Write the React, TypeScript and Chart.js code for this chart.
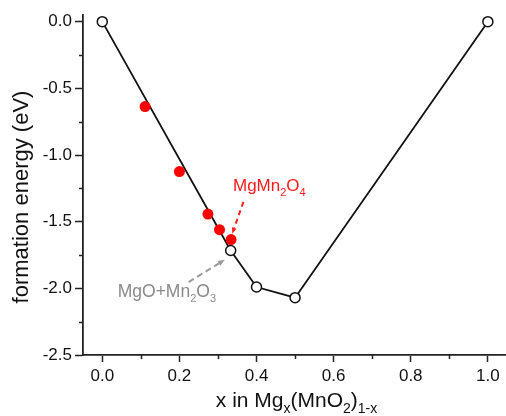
import React, { useEffect, useRef } from "react";
import { Chart, registerables } from "chart.js";

Chart.register(...registerables);

// ---- data ----
const hullX = [0, 0.333, 0.4, 0.5, 1.0];
const hullY = [0, -1.716, -1.99, -2.07, 0];
const redX = [0.111, 0.2, 0.274, 0.304, 0.334];
const redY = [-0.637, -1.124, -1.443, -1.56, -1.634];
const xTickValues = [0, 0.2, 0.4, 0.6, 0.8, 1.0];
const xMinorTicks = [0.1, 0.3, 0.5, 0.7, 0.9];
const yTickValues = [0, -0.5, -1.0, -1.5, -2.0, -2.5];
const yMinorTicks = [-0.25, -0.75, -1.25, -1.75, -2.25];

// annotation labels (text) and anchors in data coordinates
const spinelLabel = [{ t: "MgMn" }, { t: "2", sub: true }, { t: "O" }, { t: "4", sub: true }];
const spinelTextAt = [0.339, -1.225];
const spinelArrow = [[0.366, -1.352], [0.337, -1.59]];
const mixLabel = [{ t: "MgO+Mn" }, { t: "2", sub: true }, { t: "O" }, { t: "3", sub: true }];
const mixTextAt = [0.04, -2.022];
const mixArrow = [[0.224, -1.953], [0.318, -1.785]];
const xTitle = [{ t: "x in Mg" }, { t: "x", sub: true }, { t: "(MnO" }, { t: "2", sub: true }, { t: ")" }, { t: "1-x", sub: true }];
const yTitle = "formation energy (eV)";

const FONT = "'Liberation Sans', Arial, Helvetica, sans-serif";

function drawRich(ctx: CanvasRenderingContext2D, parts: { t: string; sub?: boolean }[], x: number, y: number, size: number, color: string, align: "left" | "center") {
  const subSize = Math.round(size * 0.65);
  const widths = parts.map((p) => {
    ctx.font = `${p.sub ? subSize : size}px ${FONT}`;
    return ctx.measureText(p.t).width;
  });
  const total = widths.reduce((a, b) => a + b, 0);
  let cx = align === "center" ? x - total / 2 : x;
  ctx.fillStyle = color;
  ctx.textBaseline = "alphabetic";
  ctx.textAlign = "left";
  parts.forEach((p, i) => {
    ctx.font = `${p.sub ? subSize : size}px ${FONT}`;
    ctx.fillText(p.t, cx, p.sub ? y + size * 0.28 : y);
    cx += widths[i];
  });
}

function drawArrow(ctx: CanvasRenderingContext2D, x1: number, y1: number, x2: number, y2: number, color: string, dash: number[], head: number) {
  const ang = Math.atan2(y2 - y1, x2 - x1);
  const bx = x2 - Math.cos(ang) * head;
  const by = y2 - Math.sin(ang) * head;
  ctx.save();
  ctx.strokeStyle = color;
  ctx.lineWidth = 2;
  ctx.setLineDash(dash);
  ctx.beginPath();
  ctx.moveTo(x1, y1);
  ctx.lineTo(bx, by);
  ctx.stroke();
  ctx.setLineDash([]);
  ctx.fillStyle = color;
  ctx.beginPath();
  ctx.moveTo(x2, y2);
  ctx.lineTo(bx + Math.cos(ang + Math.PI / 2) * head * 0.4, by + Math.sin(ang + Math.PI / 2) * head * 0.4);
  ctx.lineTo(bx - Math.cos(ang + Math.PI / 2) * head * 0.4, by - Math.sin(ang + Math.PI / 2) * head * 0.4);
  ctx.closePath();
  ctx.fill();
  ctx.restore();
}

const annotationPlugin = {
  id: "annotations",
  afterDraw(chart: any) {
    const ctx: CanvasRenderingContext2D = chart.ctx;
    const xs = chart.scales.x;
    const ys = chart.scales.y;
    const area = chart.chartArea;
    ctx.save();
    // minor ticks
    ctx.strokeStyle = "#222";
    ctx.lineWidth = 1.5;
    xMinorTicks.forEach((v) => {
      const px = Math.round(xs.getPixelForValue(v)) + 0.5;
      ctx.beginPath();
      ctx.moveTo(px, area.bottom);
      ctx.lineTo(px, area.bottom + 4);
      ctx.stroke();
    });
    yMinorTicks.forEach((v) => {
      const py = Math.round(ys.getPixelForValue(v)) + 0.5;
      ctx.beginPath();
      ctx.moveTo(area.left, py);
      ctx.lineTo(area.left - 4, py);
      ctx.stroke();
    });
    // annotations
    const P = (p: number[]) => [xs.getPixelForValue(p[0]), ys.getPixelForValue(p[1])];
    const [sa, sb] = [P(spinelArrow[0]), P(spinelArrow[1])];
    drawArrow(ctx, sa[0], sa[1], sb[0], sb[1], "#ff2020", [5, 4], 6);
    const st = P(spinelTextAt);
    drawRich(ctx, spinelLabel, st[0], st[1] + 6, 17, "#ff1a1a", "left");
    const [ma, mb] = [P(mixArrow[0]), P(mixArrow[1])];
    drawArrow(ctx, ma[0], ma[1], mb[0], mb[1], "#9a9a9a", [6, 4], 7);
    const mt = P(mixTextAt);
    drawRich(ctx, mixLabel, mt[0], mt[1] + 6, 17.5, "#8a8a8a", "left");
    // axis titles
    drawRich(ctx, xTitle, (area.left + area.right) / 2 + 2, area.bottom + 52, 21, "#111", "center");
    ctx.translate(28, 197);
    ctx.rotate(-Math.PI / 2);
    ctx.font = `22px ${FONT}`;
    ctx.fillStyle = "#111";
    ctx.textAlign = "center";
    ctx.textBaseline = "alphabetic";
    ctx.fillText(yTitle, 0, 0);
    ctx.restore();
  },
};

export default function App() {
  const ref = useRef<HTMLCanvasElement | null>(null);
  useEffect(() => {
    document.body.style.margin = "0";
    const canvas = ref.current;
    if (!canvas) return;
    const chart = new Chart(canvas, {
      type: "scatter",
      data: {
        datasets: [
          {
            label: "red",
            data: redX.map((x, i) => ({ x, y: redY[i] })),
            showLine: false,
            pointRadius: 5.5,
            pointBackgroundColor: "#ff0000",
            pointBorderColor: "#ff0000",
            pointBorderWidth: 0,
            order: 0,
            clip: false as any,
          },
          {
            label: "hull",
            data: hullX.map((x, i) => ({ x, y: hullY[i] })),
            showLine: true,
            borderColor: "#111",
            borderWidth: 1.8,
            pointRadius: 5,
            pointBackgroundColor: "#ffffff",
            pointBorderColor: "#111",
            pointBorderWidth: 1.5,
            order: 1,
            clip: false as any,
          },
        ],
      },
      options: {
        animation: false,
        responsive: false,
        maintainAspectRatio: false,
        layout: { autoPadding: false, padding: { top: 15, right: 0, left: 0, bottom: 0 } },
        plugins: { legend: { display: false }, tooltip: { enabled: false } },
        scales: {
          x: {
            type: "linear",
            min: -0.05,
            max: 1.047,
            afterBuildTicks: (s: any) => {
              s.ticks = xTickValues.map((v) => ({ value: v }));
            },
            afterFit: (s: any) => {
              s.height = 61;
              s.paddingLeft = 0;
              s.paddingRight = 0;
            },
            ticks: {
              autoSkip: false,
              maxRotation: 0,
              padding: 4,
              color: "#111",
              font: { family: FONT, size: 17 },
              callback: (v: any) => Number(v).toFixed(1),
            },
            grid: { display: true, drawOnChartArea: false, drawTicks: true, tickLength: 7, tickWidth: 1.5, tickColor: "#222" },
            border: { display: true, color: "#222", width: 1.8 },
          },
          y: {
            type: "linear",
            min: -2.5,
            max: 0.05,
            afterBuildTicks: (s: any) => {
              s.ticks = yTickValues.map((v) => ({ value: v }));
            },
            afterFit: (s: any) => {
              s.width = 83;
              s.paddingTop = 0;
              s.paddingBottom = 0;
            },
            ticks: {
              autoSkip: false,
              padding: 3,
              color: "#111",
              font: { family: FONT, size: 17 },
              callback: (v: any) => Number(v).toFixed(1),
            },
            grid: { display: true, drawOnChartArea: false, drawTicks: true, tickLength: 8, tickWidth: 1.5, tickColor: "#222" },
            border: { display: true, color: "#222", width: 1.8 },
          },
        },
      },
      plugins: [annotationPlugin],
    });
    return () => chart.destroy();
  }, []);
  return (
    <div style={{ width: 506, height: 416 }}>
      <canvas ref={ref} width={506} height={416} style={{ display: "block" }} />
    </div>
  );
}
